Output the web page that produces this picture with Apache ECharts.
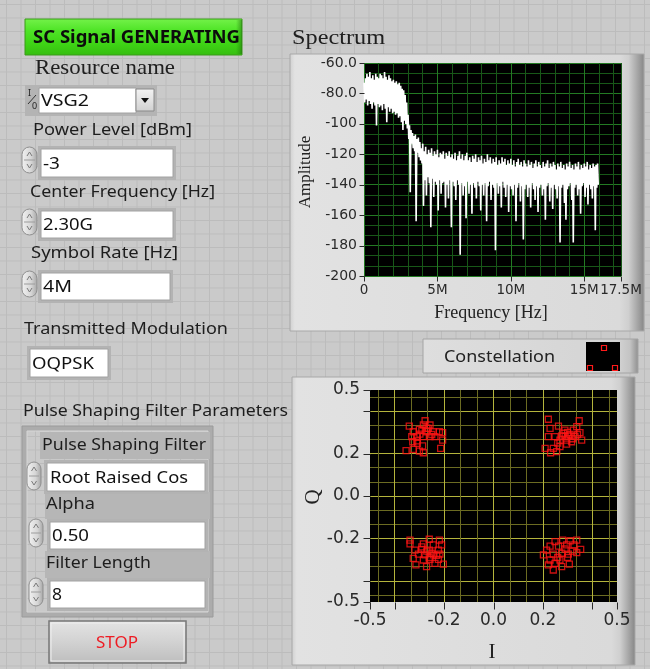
<!DOCTYPE html>
<html>
<head>
<meta charset="utf-8">
<script src="https://cdn.jsdelivr.net/npm/echarts@6/dist/echarts.min.js"></script>
<style>
  html, body { margin: 0; padding: 0; }
  #panel {
    width: 650px; height: 669px;
    background-color: #cacaca;
    background-image:
      linear-gradient(to right, #bcbcbc 1px, transparent 1px),
      linear-gradient(to bottom, #bcbcbc 1px, transparent 1px);
    background-size: 14.5px 13.5px;
    background-position: 6px 4px;
  }
</style>
</head>
<body>
<div id="panel"></div>
<script>
// ---------------- spectrum (dB), one bin every 0.1 MHz from 0 to 15.9 MHz ----------------
const specStepMHz = 0.1;
// highest excursion of the trace inside each bin
const specPeak = [
  -73, -70, -67, -69, -66, -70, -68, -71, -67, -69,
  -70, -67, -68, -70, -66, -69, -71, -68, -70, -72,
  -71, -73, -72, -74, -73, -75, -77, -78, -81, -86,
  -94, -101, -104, -106, -108, -107, -110, -109, -112, -116,
  -113, -118, -115, -120, -117, -119, -116, -121, -118, -120,
  -117, -122, -119, -120, -118, -123, -119, -121, -118, -122,
  -120, -123, -119, -124, -121, -118, -123, -120, -124, -121,
  -119, -124, -122, -125, -121, -123, -120, -125, -122, -124,
  -121, -126, -123, -125, -120, -124, -122, -126, -123, -125,
  -122, -127, -124, -126, -122, -125, -123, -127, -124, -126,
  -123, -127, -124, -128, -125, -123, -127, -125, -128, -124,
  -126, -128, -124, -127, -125, -129, -126, -124, -128, -125,
  -127, -129, -125, -128, -126, -124, -129, -126, -128, -125,
  -127, -130, -126, -128, -125, -129, -127, -130, -126, -128,
  -125, -129, -127, -130, -126, -128, -125, -130, -127, -129,
  -126, -128, -125, -130, -127, -129, -126, -128, -127, -126
];
// lowest excursion of the trace inside each bin (the deep notches included)
const specDip = [
  -86, -84, -88, -85, -87, -90, -86, -88, -101, -87,
  -89, -88, -91, -87, -90, -99, -89, -92, -90, -93,
  -92, -94, -93, -96, -95, -99, -104, -98, -100, -103,
  -110, -145, -113, -116, -118, -164, -119, -122, -124, -126,
  -154, -137, -147, -135, -139, -168, -136, -148, -138, -140,
  -157, -137, -146, -139, -138, -155, -140, -149, -137, -168,
  -138, -141, -150, -137, -140, -186, -139, -147, -141, -162,
  -138, -146, -140, -159, -139, -142, -149, -138, -141, -157,
  -140, -147, -139, -164, -141, -138, -150, -140, -142, -183,
  -139, -146, -141, -155, -138, -142, -148, -140, -158, -141,
  -143, -147, -140, -164, -142, -139, -151, -141, -176, -143,
  -140, -148, -142, -155, -139, -143, -150, -141, -158, -142,
  -140, -147, -143, -163, -141, -139, -151, -142, -156, -140,
  -143, -149, -141, -178, -142, -140, -152, -163, -143, -141,
  -139, -150, -178, -142, -140, -147, -143, -159, -141, -139,
  -148, -142, -153, -140, -143, -149, -141, -170, -142, -140
];
const freqTickValues = [0, 5, 10, 15, 17.5];                              // MHz
const ampTickValues = [-200, -180, -160, -140, -120, -100, -80, -60];     // dB

// ---------------- constellation (I, Q) ----------------
const symbolsQ1 = [ // upper right
  [0.222, 0.362], [0.347, 0.355], [0.263, 0.330], [0.229, 0.319], [0.289, 0.311],
  [0.323, 0.311], [0.350, 0.299], [0.222, 0.280], [0.249, 0.280], [0.276, 0.283],
  [0.303, 0.283], [0.330, 0.280], [0.357, 0.264], [0.269, 0.264], [0.296, 0.264],
  [0.316, 0.256], [0.209, 0.225], [0.242, 0.225], [0.269, 0.233], [0.231, 0.204],
  [0.256, 0.209], [0.296, 0.245], [0.283, 0.296], [0.337, 0.327], [0.310, 0.290],
  [0.320, 0.270], [0.300, 0.300], [0.260, 0.250], [0.340, 0.290], [0.290, 0.280]
];
const symbolsQ2 = [ // upper left
  [-0.341, 0.330], [-0.277, 0.355], [-0.284, 0.335], [-0.257, 0.335], [-0.325, 0.303],
  [-0.300, 0.314], [-0.271, 0.303], [-0.244, 0.303], [-0.219, 0.303], [-0.206, 0.299],
  [-0.331, 0.280], [-0.311, 0.280], [-0.284, 0.280], [-0.257, 0.280], [-0.206, 0.264],
  [-0.327, 0.256], [-0.308, 0.248], [-0.287, 0.236], [-0.354, 0.214], [-0.325, 0.220],
  [-0.300, 0.212], [-0.284, 0.204], [-0.214, 0.225], [-0.264, 0.319], [-0.298, 0.292],
  [-0.237, 0.280], [-0.270, 0.320], [-0.290, 0.310], [-0.250, 0.290], [-0.310, 0.260]
];
const symbolsQ3 = [ // lower left
  [-0.338, -0.208], [-0.260, -0.204], [-0.219, -0.208], [-0.338, -0.226], [-0.284, -0.226],
  [-0.244, -0.231], [-0.210, -0.231], [-0.318, -0.255], [-0.291, -0.252], [-0.260, -0.255],
  [-0.223, -0.255], [-0.304, -0.274], [-0.277, -0.278], [-0.244, -0.278], [-0.217, -0.274],
  [-0.314, -0.325], [-0.271, -0.333], [-0.237, -0.318], [-0.203, -0.321], [-0.284, -0.302],
  [-0.257, -0.299], [-0.223, -0.299], [-0.325, -0.294], [-0.270, -0.260], [-0.250, -0.270],
  [-0.290, -0.240], [-0.260, -0.290], [-0.230, -0.280]
];
const symbolsQ4 = [ // lower right
  [0.249, -0.215], [0.280, -0.208], [0.310, -0.211], [0.337, -0.208], [0.229, -0.236],
  [0.263, -0.236], [0.296, -0.231], [0.326, -0.231], [0.353, -0.252], [0.202, -0.278],
  [0.215, -0.255], [0.242, -0.274], [0.276, -0.270], [0.303, -0.274], [0.337, -0.267],
  [0.222, -0.325], [0.249, -0.318], [0.276, -0.333], [0.307, -0.321], [0.242, -0.349],
  [0.269, -0.302], [0.229, -0.302], [0.290, -0.250], [0.320, -0.260], [0.260, -0.290],
  [0.300, -0.290]
];
const iTickValues = [-0.5, -0.4, -0.2, 0, 0.2, 0.4, 0.5];
const iLabelValues = [-0.5, -0.2, 0, 0.2, 0.4, 0.5];
const qTickValues = [-0.5, -0.4, -0.2, 0, 0.2, 0.4, 0.5];
const qLabelValues = [-0.5, -0.2, 0, 0.2, 0.5];

// ---------------- front-panel control values ----------------
const resourceName = 'VSG2';
const powerLevel = '-3';
const centerFrequency = '2.30G';
const symbolRate = '4M';
const modulation = 'OQPSK';
const filterType = 'Root Raised Cos';
const filterAlpha = '0.50';
const filterLength = '8';

// spectrum trace: each bin contributes its peak then its dip
const spectrumTrace = [];
specPeak.forEach(function (p, i) {
  const f = i * specStepMHz;
  spectrumTrace.push([f, p]);
  spectrumTrace.push([f + specStepMHz / 2, specDip[i]]);
});

const FREQ_MIN = freqTickValues[0], FREQ_MAX = freqTickValues[freqTickValues.length - 1];
const AMP_MIN = ampTickValues[0], AMP_MAX = ampTickValues[ampTickValues.length - 1];
const I_MIN = iTickValues[0], I_MAX = iTickValues[iTickValues.length - 1];
const Q_MIN = qTickValues[0], Q_MAX = qTickValues[qTickValues.length - 1];

// ---------------- drawing helpers for the panel widgets ----------------
const UI = '"Noto Sans", "Open Sans", sans-serif';
const SERIF = '"Liberation Serif", "DejaVu Serif", serif';
const G = echarts.graphic;
const measureCtx = document.createElement('canvas').getContext('2d');

function vgrad(stops) {
  return new G.LinearGradient(0, 0, 0, 1, stops.map(function (c, k) {
    return { offset: k / (stops.length - 1), color: c };
  }));
}
function hgrad(list) {
  return new G.LinearGradient(0, 0, 1, 0, list.map(function (s) {
    return { offset: s[0], color: s[1] };
  }));
}
// text drawn at (x, y); when a width is given the glyphs are stretched horizontally to span it
function text(x, y, str, font, fill, width, align, rotation) {
  let sx = 1;
  if (width) {
    measureCtx.font = font;
    sx = width / measureCtx.measureText(str).width;
  }
  const el = {
    type: 'text', x: x, y: y, silent: true,
    style: { text: str, font: font, fill: fill || '#1d1d1d', align: align || 'left', verticalAlign: 'middle' }
  };
  if (sx !== 1) { el.scaleX = sx; }
  if (rotation) { el.rotation = rotation; }
  return el;
}
function rect(x, y, w, h, style, extra) {
  return Object.assign({ type: 'rect', silent: true, shape: { x: x, y: y, width: w, height: h }, style: style }, extra || {});
}
function knob(x, y, w, h) {
  const cx = x + w / 2;
  return [
    rect(x, y, w, h, { fill: hgrad([[0, '#f2f2f2'], [0.6, '#d6d6d6'], [1, '#a4a4a4']]), stroke: '#8e8e8e', lineWidth: 1 }, { shape: { x: x, y: y, width: w, height: h, r: w / 2 } }),
    { type: 'line', silent: true, shape: { x1: x + 2, y1: y + h / 2, x2: x + w - 2, y2: y + h / 2 }, style: { stroke: '#9c9c9c', lineWidth: 1 } },
    { type: 'polyline', silent: true, shape: { points: [[cx - 2.5, y + 9], [cx, y + 5], [cx + 2.5, y + 9]] }, style: { stroke: '#7a7a7a', lineWidth: 1, fill: null } },
    { type: 'polyline', silent: true, shape: { points: [[cx - 2.5, y + h - 9], [cx, y + h - 5], [cx + 2.5, y + h - 9]] }, style: { stroke: '#7a7a7a', lineWidth: 1, fill: null } }
  ];
}
function entryBox(x, y, w, h, value, textX, textW) {
  return [
    rect(x - 3, y - 3, w + 6, h + 6, { fill: '#b3b3b3' }),
    rect(x, y, w, h, { fill: '#ffffff', stroke: '#a2a2a2', lineWidth: 1 }),
    text(textX, y + h / 2 + 1, value, '17px ' + UI, '#111', textW)
  ];
}
function numeric(kx, ky, kw, kh, bx, by, bw, bh, value, textX, textW) {
  return entryBox(bx, by, bw, bh, value, textX, textW).concat(knob(kx, ky, kw, kh));
}

const LBL = '17px ' + UI;
const elements = [];
function add(list) { list.forEach(function (e) { elements.push(e); }); }

// status indicator
elements.push(rect(25, 19, 217, 36, { fill: vgrad(['#74f24a', '#4ee426', '#3fd516', '#36bd10']), stroke: '#3a9a1a', lineWidth: 1 }));
elements.push(rect(236, 20, 6, 34, { fill: hgrad([[0, 'rgba(30,110,10,0)'], [1, 'rgba(30,110,10,0.55)']]) }));
elements.push(text(33, 38, 'SC Signal GENERATING', 'bold 17px ' + UI, '#0c0c0c', 207));

// resource name
elements.push(text(35, 68, 'Resource name', '22px ' + SERIF, '#202020', 140));
elements.push(rect(25, 85, 132, 31, { fill: '#b4b4b4' }));
elements.push(rect(39, 88, 97, 25, { fill: '#ffffff', stroke: '#a2a2a2', lineWidth: 1 }));
elements.push(text(41, 101, resourceName, '17px ' + UI, '#111', 48));
elements.push(rect(136, 89, 18, 22, { fill: vgrad(['#f4f4f4', '#d0d0d0']), stroke: '#8a8a8a', lineWidth: 1 }));
elements.push({ type: 'polygon', silent: true, shape: { points: [[141, 98], [149, 98], [145, 103]] }, style: { fill: '#111' } });
elements.push(text(28, 93, 'I', '9px ' + UI, '#222'));
elements.push(text(32, 106, '0', '9px ' + UI, '#222'));
elements.push({ type: 'line', silent: true, shape: { x1: 36, y1: 95, x2: 28, y2: 104 }, style: { stroke: '#333', lineWidth: 1 } });

// numeric controls
elements.push(text(33, 130, 'Power Level [dBm]', LBL, null, 159));
add(numeric(22, 147, 15, 26, 41, 149, 132, 28, powerLevel, 43, 17));
elements.push(text(30, 192, 'Center Frequency [Hz]', LBL, null, 185));
add(numeric(22, 209, 15, 26, 41, 211, 132, 27, centerFrequency, 43, 50));
elements.push(text(31, 253, 'Symbol Rate [Hz]', LBL, null, 147));
add(numeric(22, 271, 15, 26, 41, 273, 129, 27, symbolRate, 43, 29));

// modulation indicator
elements.push(text(24, 329, 'Transmitted Modulation', LBL, null, 204));
add(entryBox(30, 349, 78, 28, modulation, 32, 62));

// filter parameter cluster
elements.push(text(23, 411, 'Pulse Shaping Filter Parameters', LBL, null, 265));
elements.push(rect(24.5, 428.5, 186, 186, { fill: null, stroke: '#acacac', lineWidth: 5 }));
elements.push(rect(22, 426, 191, 191, { fill: null, stroke: '#9a9a9a', lineWidth: 1 }));
elements.push(rect(27, 431, 181, 181, { fill: null, stroke: '#d6d6d6', lineWidth: 1 }));
elements.push(rect(40, 432, 170, 27, { fill: '#b6b6b6' }));
elements.push(rect(45, 492, 165, 27, { fill: '#b6b6b6' }));
elements.push(rect(45, 551, 165, 27, { fill: '#b6b6b6' }));
elements.push(text(42, 445, 'Pulse Shaping Filter', LBL, null, 164));
add(numeric(27, 462, 14, 28, 47, 463, 158, 28, filterType, 50, 138));
elements.push(text(46, 504, 'Alpha', LBL, null, 49));
add(numeric(29, 519, 14, 28, 50, 522, 155, 27, filterAlpha, 52, 37));
elements.push(text(46, 563, 'Filter Length', LBL, null, 105));
add(numeric(29, 578, 14, 28, 50, 581, 155, 27, filterLength, 52, 10));

// stop button
elements.push(rect(49, 621, 137, 42, { fill: vgrad(['#e4e4e4', '#d2d2d2', '#bdbdbd']), stroke: '#777', lineWidth: 1.5 }));
elements.push(rect(51, 623, 133, 38, { fill: null, stroke: '#efefef', lineWidth: 1 }));
elements.push(text(117, 643, 'STOP', LBL, '#ee1c24', 42, 'center'));

// spectrum frame
elements.push(text(292, 38, 'Spectrum', '22px ' + SERIF, '#202020', 93));
elements.push(rect(290, 54, 354, 277, { fill: hgrad([[0, '#cfcfcf'], [0.015, '#e2e2e2'], [0.93, '#dadada'], [0.955, '#cfcfcf'], [1, '#858585']]), stroke: '#a8a8a8', lineWidth: 1 }, { z: -10 }));
elements.push(text(306, 172, 'Amplitude', '17px ' + SERIF, '#222', null, 'center', Math.PI / 2));
elements.push(text(491, 313, 'Frequency [Hz]', '18px ' + SERIF, '#222', null, 'center'));

// constellation legend
elements.push(rect(423, 339, 215, 34, { fill: hgrad([[0, '#dedede'], [0.9, '#d4d4d4'], [0.96, '#c4c4c4'], [1, '#8e8e8e']]), stroke: '#a4a4a4', lineWidth: 1 }));
elements.push(text(444, 357, 'Constellation', LBL, '#222', 111));
elements.push(rect(586, 342, 34, 29, { fill: '#000' }));
[[601, 345], [587, 365], [612, 365]].forEach(function (p) {
  elements.push(rect(p[0] + 0.5, p[1] + 0.5, 5, 5, { fill: null, stroke: '#ff1a1a', lineWidth: 1.2 }));
});

// constellation frame
elements.push(rect(292, 377, 343, 288, { fill: hgrad([[0, '#cfcfcf'], [0.015, '#e2e2e2'], [0.93, '#dadada'], [0.955, '#cfcfcf'], [1, '#858585']]), stroke: '#a8a8a8', lineWidth: 1 }, { z: -10 }));
elements.push(text(313, 497, 'Q', '21px ' + SERIF, '#222', null, 'center', Math.PI / 2));
elements.push(text(492, 652, 'I', '21px ' + SERIF, '#222', null, 'center'));

// ---------------- chart ----------------
const SPEC_MAJOR = '#237a23', SPEC_MINOR = '#185818';
const IQ_MAJOR = '#b4b43c', IQ_MINOR = '#6c6c22', NONE = 'rgba(0,0,0,0)';
const TICK_COLOR = '#2a2a2a';
const tickFont = { fontFamily: '"DejaVu Sans", sans-serif', color: TICK_COLOR };
const noLine = { show: false };
const noTick = { show: false };

// outward tick marks, placed through the axes' own scales
function tickMarks(xIdx, yIdx, values, dim, fixed, len) {
  return {
    type: 'custom', xAxisIndex: xIdx, yAxisIndex: yIdx, silent: true, clip: false, z: 6,
    data: values.map(function (v) { return dim === 'x' ? [v, fixed] : [fixed, v]; }),
    renderItem: function (params, api) {
      const p = api.coord([api.value(0), api.value(1)]);
      const x = Math.round(p[0]) + 0.5, y = Math.round(p[1]) + 0.5;
      const shape = dim === 'x'
        ? { x1: x, y1: y, x2: x, y2: y + len }
        : { x1: x - len, y1: y, x2: x, y2: y };
      return { type: 'line', shape: shape, style: { stroke: TICK_COLOR, lineWidth: 1 } };
    }
  };
}

const chart = echarts.init(document.getElementById('panel'), null, { renderer: 'canvas' });
chart.setOption({
  animation: false,
  backgroundColor: 'transparent',
  graphic: { elements: elements },
  grid: [
    { left: 364, top: 63, width: 257, height: 213, show: true, backgroundColor: '#000', borderWidth: 0, containLabel: false },
    { left: 370, top: 390, width: 247, height: 212, show: true, backgroundColor: '#000', borderWidth: 0, containLabel: false }
  ],
  xAxis: [
    { // frequency labels
      gridIndex: 0, type: 'value', min: FREQ_MIN, max: FREQ_MAX, position: 'bottom',
      axisLine: noLine, axisTick: noTick,
      axisLabel: Object.assign({ customValues: freqTickValues, fontSize: 13.5, margin: 7,
        showMinLabel: true, showMaxLabel: true,
        formatter: function (v) { return v === 0 ? '0' : v + 'M'; } }, tickFont),
      splitLine: { show: false }
    },
    { // frequency grid, one line per MHz
      gridIndex: 0, type: 'value', min: FREQ_MIN, max: FREQ_MAX, interval: 1, position: 'top',
      axisLine: noLine, axisTick: noTick, axisLabel: { show: false },
      splitLine: { show: true, lineStyle: { width: 1, color: [SPEC_MAJOR, SPEC_MINOR, SPEC_MINOR, SPEC_MINOR, SPEC_MINOR] } }
    },
    { // I labels
      gridIndex: 1, type: 'value', min: I_MIN, max: I_MAX, position: 'bottom',
      axisLine: noLine, axisTick: noTick,
      axisLabel: Object.assign({ customValues: iLabelValues, fontSize: 17, margin: 10,
        showMinLabel: true, showMaxLabel: true, hideOverlap: false,
        formatter: function (v) { return v.toFixed(1); } }, tickFont),
      splitLine: { show: false }
    },
    { // I grid in fifteenths
      gridIndex: 1, type: 'value', min: -7.5, max: 7.5, interval: 0.5, position: 'top',
      axisLine: noLine, axisTick: noTick, axisLabel: { show: false },
      splitLine: { show: true, lineStyle: { width: 1, color: [NONE, IQ_MINOR, NONE, IQ_MAJOR, NONE, IQ_MINOR] } }
    }
  ],
  yAxis: [
    { // amplitude
      gridIndex: 0, type: 'value', min: AMP_MIN, max: AMP_MAX, interval: 20, position: 'left',
      axisLine: noLine, axisTick: noTick,
      axisLabel: Object.assign({ fontSize: 14, margin: 7,
        showMinLabel: true, showMaxLabel: true,
        formatter: function (v) { return v > -100 ? v.toFixed(1) : String(v); } }, tickFont),
      splitLine: { show: true, lineStyle: { width: 1, color: SPEC_MAJOR } },
      minorTick: { show: false, splitNumber: 3 },
      minorSplitLine: { show: true, lineStyle: { width: 1, color: SPEC_MINOR } }
    },
    { // Q labels
      gridIndex: 1, type: 'value', min: Q_MIN, max: Q_MAX, position: 'left',
      axisLine: noLine, axisTick: noTick,
      axisLabel: Object.assign({ customValues: qLabelValues, fontSize: 17, margin: 10,
        showMinLabel: true, showMaxLabel: true,
        formatter: function (v) { return v.toFixed(1); } }, tickFont),
      splitLine: { show: false }
    },
    { // Q grid in fifteenths
      gridIndex: 1, type: 'value', min: -7.5, max: 7.5, interval: 0.5, position: 'right',
      axisLine: noLine, axisTick: noTick, axisLabel: { show: false },
      splitLine: { show: true, lineStyle: { width: 1, color: [NONE, IQ_MINOR, NONE, IQ_MAJOR, NONE, IQ_MINOR] } }
    }
  ],
  series: [
    {
      name: 'Spectrum', type: 'line', xAxisIndex: 0, yAxisIndex: 0,
      data: spectrumTrace, showSymbol: false, symbol: 'none', clip: true,
      lineStyle: { color: '#ffffff', width: 1.6 }, silent: true, z: 5
    },
    tickMarks(0, 0, freqTickValues, 'x', AMP_MIN, 5),
    tickMarks(0, 0, ampTickValues, 'y', FREQ_MIN, 5),
    tickMarks(2, 1, iTickValues, 'x', Q_MIN, 7),
    tickMarks(2, 1, qTickValues, 'y', I_MIN, 7)
  ].concat([symbolsQ1, symbolsQ2, symbolsQ3, symbolsQ4].map(function (pts) {
    return {
      name: 'Constellation', type: 'scatter', xAxisIndex: 2, yAxisIndex: 1,
      data: pts, symbol: 'rect', symbolSize: 6, silent: true, z: 5,
      itemStyle: { color: 'rgba(0,0,0,0)', borderColor: '#ff1414', borderWidth: 1.3 }
    };
  }))
});
</script>
</body>
</html>
